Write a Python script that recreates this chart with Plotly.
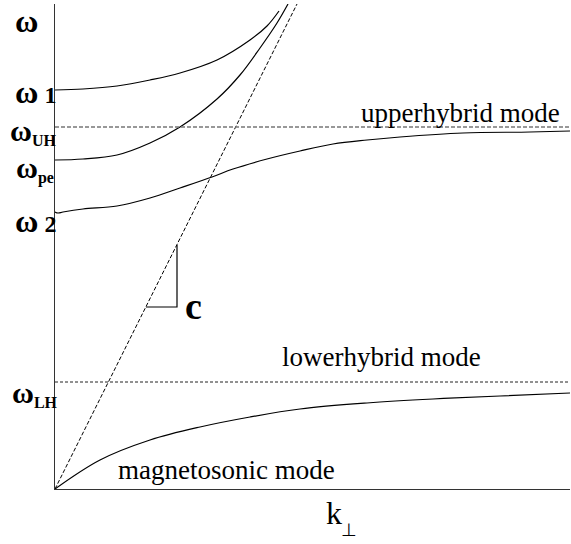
import plotly.graph_objects as go

# Dispersion branches (k_perp, omega) in arbitrary units
k_w1 = [0, 28, 62, 95, 125, 162, 195, 212, 224]
w_w1 = [399, 400, 403, 409, 416, 429, 449, 463, 478]

k_wpe = [0, 28, 62, 95, 125, 162, 185, 205, 222, 233]
w_wpe = [329, 330, 334, 346, 362, 390, 414, 441, 466, 485]

k_w2 = [0, 3, 8, 28, 62, 95, 125, 157, 178, 212, 245, 278, 312, 345, 408, 475, 515]
w_w2 = [277, 276, 277, 280, 283, 291, 301, 312, 320, 330, 338, 345, 349, 352, 356, 357, 358]

k_ms = [0, 45, 95, 145, 195, 245, 312, 378, 445, 515]
w_ms = [0, 29, 49, 62, 72, 80, 86, 90, 93, 96]

# Light line omega = c k
k_light = [0, 242]
w_light = [0, 485]

# Slope triangle for c
k_tri = [91, 122, 122]
w_tri = [182, 182, 244]

# Hybrid resonance levels
w_UH = 362
w_LH = 107
k_max = 515
w_max = 485

FONT = "Liberation Serif"


def omega(size=31):
    return '<span style="font-size:%dpx">ω</span>' % size


def sub(txt, size=16):
    return '<sub><span style="font-size:%dpx">%s</span></sub>' % (size, txt)


fig = go.Figure()

for kx, wy in [(k_w1, w_w1), (k_wpe, w_wpe), (k_w2, w_w2), (k_ms, w_ms)]:
    fig.add_trace(go.Scatter(x=kx, y=wy, mode="lines",
                             line=dict(color="black", width=1.2, shape="spline", smoothing=1.0),
                             hoverinfo="skip"))

fig.add_trace(go.Scatter(x=k_light, y=w_light, mode="lines",
                         line=dict(color="black", width=1, dash="4px,2px"), hoverinfo="skip"))
fig.add_trace(go.Scatter(x=[0, k_max], y=[w_UH, w_UH], mode="lines",
                         line=dict(color="#777777", width=1.5, dash="4px,2px"), hoverinfo="skip"))
fig.add_trace(go.Scatter(x=[0, k_max], y=[w_LH, w_LH], mode="lines",
                         line=dict(color="#222222", width=1, dash="3px,2px"), hoverinfo="skip"))
fig.add_trace(go.Scatter(x=k_tri, y=w_tri, mode="lines",
                         line=dict(color="black", width=1.2), hoverinfo="skip"))


def label(text, x, y, size, bold=False, xanchor="center"):
    # positions given in axis units, placed in paper space so labels may sit in the margins
    if bold:
        text = "<b>" + text + "</b>"
    fig.add_annotation(x=x / k_max, y=y / w_max, text=text, showarrow=False,
                       xref="paper", yref="paper",
                       xanchor=xanchor, yanchor="middle",
                       font=dict(family=FONT, size=size, color="black"))


label(omega(32), -29, 468, 24, bold=True)
label(omega(32) + " 1", -20, 397, 24, bold=True)
label(omega(30) + sub("UH"), -22, 358, 22, bold=True)
label(omega(30) + sub("pe"), -20, 320, 22, bold=True)
label(omega(32) + " 2", -20, 268, 24, bold=True)
label(omega(30) + sub("LH"), -20, 96, 22, bold=True)
label("c", 138, 183, 38, bold=True)
label("upperhybrid mode", 405, 376, 27)
label("lowerhybrid mode", 326, 132, 27)
label("magnetosonic mode", 171, 19, 27)
label("k", 279, -24, 32)
label("⊥", 294, -41, 18)

fig.update_layout(
    width=571, height=544,
    margin=dict(l=55, r=1, t=4, b=55),
    paper_bgcolor="white", plot_bgcolor="white",
    showlegend=False,
    xaxis=dict(range=[0, k_max], showgrid=False, zeroline=False, showticklabels=False,
               ticks="", showline=True, linecolor="#333333", linewidth=1),
    yaxis=dict(range=[0, w_max], showgrid=False, zeroline=False, showticklabels=False,
               ticks="", showline=True, linecolor="#333333", linewidth=1),
)

fig.write_html("out.html")
